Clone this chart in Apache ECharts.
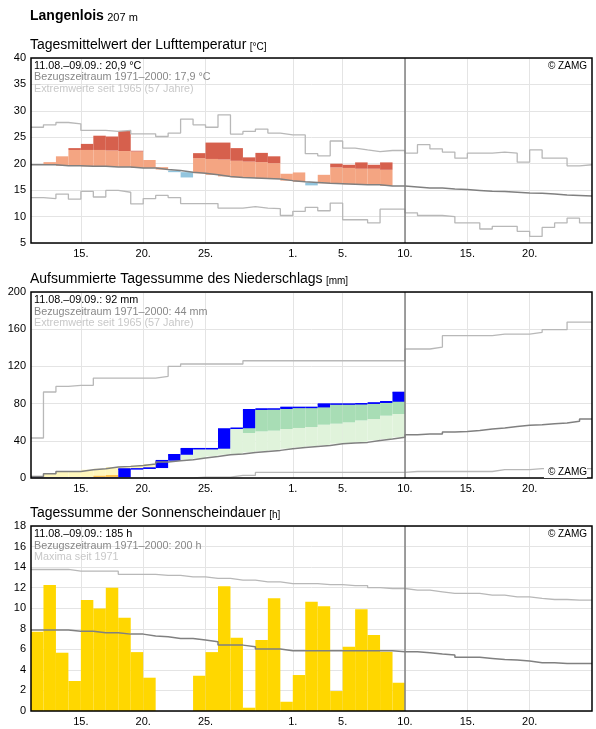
<!DOCTYPE html>
<html>
<head>
<meta charset="utf-8">
<script src="https://cdn.jsdelivr.net/npm/echarts@6/dist/echarts.min.js"></script>
<style>
html, body { margin: 0; padding: 0; background: #fff; }
#main { width: 596px; height: 729px; }
</style>
</head>
<body>
<div id="main"></div>
<script>
// x: Tage ab 11.08. (0) bis 24.09. (44), Achse 0..45
var N_DAYS = 45;
var TODAY = 30; // 10.09.
var tickPos = [4, 9, 14, 21, 25, 30, 35, 40];
var tickLabels = ['15.', '20.', '25.', '1.', '5.', '10.', '15.', '20.'];

// Lufttemperatur [°C]
var tempActual = [19.8, 20.3, 21.4, 22.95, 23.75, 25.3, 25.15, 26.2, 22.45, 20.7,
  19.35, 18.4, 17.4, 22.0, 24.0, 24.0, 22.95, 21.2, 22.05, 21.4,
  18.1, 18.35, 15.9, 17.9, 20.0, 19.8, 20.25, 19.8, 20.25, 15.8];
var tempUpper = [null, null, null, 22.6, 22.6, 22.6, 22.5, 22.4, 22.3, null,
  null, null, null, 21.05, 20.9, 20.8, 20.55, 20.4, 20.3, 20.1,
  null, null, null, null, 19.3, 19.2, 19.05, 19.05, 18.85, null];
var tempMean = [19.8, 19.8, 19.6, 19.6, 19.5, 19.5, 19.4, 19.4, 19.2, 19.2,
  18.9, 18.7, 18.4, 18.2, 17.9, 17.6, 17.4, 17.3, 17.2, 17.1,
  16.8, 16.6, 16.45, 16.3, 16.2, 16.1, 16.0, 16.0, 15.8, 15.8,
  15.6, 15.4, 15.4, 15.2, 15.1, 14.95, 14.8, 14.75, 14.6, 14.45,
  14.4, 14.25, 14.1, 14.0, 13.9];
var tempMax = [26.9, 27.35, 27.8, 27.55, 26.3, 26.3, 26.1, 26.3, 25.65, 25.65,
  25.15, 25.8, 28.45, 27.35, 26.9, 29.25, 25.6, 26.1, 26.55, 25.8,
  25.45, 25.45, 21.9, 21.5, 24.3, 22.95, 22.6, 22.3, 22.5, 22.5,
  22.0, 23.6, 22.8, 22.2, 21.05, 22.0, 22.0, 22.2, 22.0, 20.3,
  22.6, 21.05, 21.05, 19.6, 19.8];
var tempMin = [13.6, 13.4, 14.25, 13.3, 14.75, 13.7, 14.95, 14.6, 12.4, 13.4,
  14.0, 13.6, 12.45, 12.45, 12.45, 11.6, 11.6, 11.9, 11.6, 11.5,
  10.2, 11.0, 11.75, 11.1, 12.55, 9.4, 9.4, 8.8, 11.4, 11.4,
  10.7, 10.2, 10.2, 10.0, 8.8, 8.8, 7.65, 8.15, 8.15, 7.2,
  6.25, 7.95, 8.8, 9.7, 8.8];

// Niederschlag aufsummiert [mm]
var precActual = [0, 0, 0, 0, 0, 0, 0, 9.7, 9.8, 10.7,
  18.6, 25.0, 31.5, 31.5, 31.5, 52.7, 53.5, 73.4, 74.2, 74.2,
  75.9, 75.9, 75.9, 79.5, 79.5, 79.5, 79.8, 80.7, 82.0, 92.0];
var precUpper = [null, null, null, null, null, null, null, null, null, null,
  null, null, null, null, null, null, null, 48.4, 50.1, 50.9,
  52.7, 53.8, 54.8, 57.3, 58.4, 59.8, 61.9, 63.4, 67.0, 68.8];
var precLower = [null, null, null, null, null, 2.5, 3.2, null, null, null,
  null, null, null, null, null, null, null, null, null, null,
  null, null, null, null, null, null, null, null, null, null];
var precMean = [1.7, 4.6, 7.1, 7.1, 8.9, 10.0, 11.8, 12.5, 13.5, 15.0,
  17.2, 18.6, 19.7, 21.5, 23.2, 25.0, 25.8, 27.5, 28.6, 29.7,
  31.5, 32.9, 34.0, 35.0, 36.9, 37.6, 38.3, 40.4, 41.9, 43.7,
  46.6, 47.3, 47.3, 49.5, 50.1, 51.2, 52.7, 53.8, 55.5, 56.6,
  57.3, 58.4, 59.1, 60.9, 63.4];
var precMax = [43, 92.5, 98.5, 99.6, 99.6, 107.5, 107.5, 107.5, 107.5, 107.5,
  109.3, 120, 122.6, 122.6, 122.6, 122.6, 122.6, 126.1, 126.1, 126.1,
  126.1, 126.1, 126.1, 126.1, 126.1, 126.1, 126.1, 126.1, 126.1, 126.1,
  138.7, 138.7, 140.8, 153, 153, 153, 153, 154.8, 154.8, 154.8,
  156.6, 159.5, 159.5, 167.7, 167.7];
var precMin = [0, 0, 0, 0, 0, 0, 0, 0, 0, 0,
  0, 0, 0, 1, 1, 1, 2.8, 2.8, 6, 6,
  6, 6, 6, 6, 6, 6, 6, 6, 6, 6,
  7, 7, 7, 7, 7, 7, 7, 8.9, 8.9, 8.9,
  10, 10, 10, 10, 10];

// Sonnenscheindauer [h]
var sunHours = [7.7, 12.25, 5.67, 2.92, 10.8, 9.98, 12.0, 9.07, 5.73, 3.24,
  0, 0, 0, 3.43, 5.73, 12.15, 7.13, 0.32, 6.9, 10.98,
  0.9, 3.5, 10.62, 10.2, 1.94, 6.25, 9.91, 7.39, 5.76, 2.75];
var sunMean = [7.87, 7.87, 7.87, 7.77, 7.77, 7.61, 7.61, 7.48, 7.48, 7.29,
  7.22, 7.06, 7.06, 6.9, 6.74, 6.41, 6.41, 6.25, 6.03, 6.03,
  5.86, 5.86, 5.86, 5.86, 5.86, 5.86, 5.86, 5.86, 5.86, 5.76,
  5.76, 5.67, 5.54, 5.44, 5.22, 5.22, 5.12, 5.02, 4.96, 4.86,
  4.7, 4.7, 4.63, 4.63, 4.63];
var sunMax = [13.77, 13.77, 13.77, 13.6, 13.6, 13.6, 13.6, 13.3, 13.3, 13.3,
  13.2, 13.2, 13.05, 13.05, 12.9, 12.9, 12.73, 12.73, 12.57, 12.57,
  12.4, 12.4, 12.4, 12.3, 12.3, 12.2, 12.2, 12.0, 11.92, 11.92,
  11.76, 11.76, 11.6, 11.44, 11.44, 11.44, 11.27, 11.27, 11.1, 11.1,
  10.95, 10.85, 10.85, 10.79, 10.79];

var FONT = '"Liberation Sans", Arial, sans-serif';
var C = {
  salmon: '#f4a582', red: '#d6604d', lightBlue: '#92c5de',
  green1: '#e0f3db', green2: '#a8ddb5', yellow1: '#fff7bc', yellow2: '#fec44f',
  blue: '#0000ff', sun: '#ffd700',
  mean: '#808080', extreme: '#b8b8b8', grid: '#e4e4e4'
};

var dayCats = [];
for (var i = 0; i <= N_DAYS; i++) {
  var k = tickPos.indexOf(i);
  dayCats.push(k >= 0 ? tickLabels[k] : '');
}
function hasLabel(idx, val) { return val !== ''; }

var chart = echarts.init(document.getElementById('main'));

var grids = [
  { left: 31, right: 4, top: 58, height: 185 },
  { left: 31, right: 4, top: 292, height: 186 },
  { left: 31, right: 4, top: 526, height: 185 }
];
var yRanges = [[5, 40, 5], [0, 200, 40], [0, 18, 2]];

var xAxes = [], yAxes = [];
grids.forEach(function (g, gi) {
  // Rahmen über den Daten
  g.show = true;
  g.z = 10;
  g.borderColor = '#000';
  g.borderWidth = 1.5;
  g.backgroundColor = 'transparent';
  g.containLabel = false;
  g.outerBoundsMode = 'none';
  xAxes.push({
    gridIndex: gi, type: 'value', min: 0, max: N_DAYS, show: false
  });
  xAxes.push({
    gridIndex: gi, type: 'category', data: dayCats, boundaryGap: false, position: 'bottom',
    axisLine: { show: false }, axisTick: { show: false },
    axisLabel: { interval: hasLabel, color: '#000', fontSize: 11, fontFamily: FONT, margin: 5 },
    splitLine: { show: true, interval: hasLabel, lineStyle: { color: C.grid, width: 1 } }
  });
  var r = yRanges[gi];
  yAxes.push({
    gridIndex: gi, type: 'value', min: r[0], max: r[1], interval: r[2], position: 'left',
    axisLine: { show: false }, axisTick: { show: false },
    axisLabel: { color: '#000', fontSize: 11, fontFamily: FONT, margin: 5 },
    splitLine: { show: true, lineStyle: { color: C.grid, width: 1 } }
  });
});

function band(api, x, y0, y1, color) {
  var p0 = api.coord([x, y0]);
  var p1 = api.coord([x + 1, y1]);
  return {
    type: 'rect',
    shape: { x: p0[0], y: Math.min(p0[1], p1[1]), width: p1[0] - p0[0], height: Math.abs(p0[1] - p1[1]) },
    style: { fill: color }
  };
}

function steps(arr) {
  var pts = arr.map(function (v, i) { return [i, v]; });
  pts.push([arr.length, arr[arr.length - 1]]);
  return pts;
}

function stepLine(gi, arr, color, width, withToday) {
  var s = {
    type: 'line', xAxisIndex: gi * 2, yAxisIndex: gi, step: 'end',
    data: steps(arr), showSymbol: false, symbol: 'none', silent: true,
    lineStyle: { color: color, width: width }, z: 3
  };
  if (withToday) {
    s.markLine = {
      silent: true, symbol: 'none', label: { show: false },
      lineStyle: { color: '#808080', width: 1.5, type: 'solid' },
      data: [{ xAxis: TODAY }]
    };
  }
  return s;
}

var series = [];

// Temperatur: Abweichungen vom Mittel
series.push({
  type: 'custom', xAxisIndex: 0, yAxisIndex: 0, silent: true, clip: true,
  data: tempActual.map(function (v, i) { return [i, v, tempMean[i]]; }),
  renderItem: function (params, api) {
    var x = api.value(0), a = api.value(1), m = api.value(2);
    var u = tempUpper[params.dataIndex];
    var parts = [];
    if (a > m) {
      var over = u != null && a > u;
      parts.push(band(api, x, m, over ? u : a, C.salmon));
      if (over) parts.push(band(api, x, u, a, C.red));
    } else if (a < m) {
      parts.push(band(api, x, a, m, C.lightBlue));
    }
    return { type: 'group', children: parts };
  }
});
series.push(stepLine(0, tempMax, C.extreme, 1.3));
series.push(stepLine(0, tempMin, C.extreme, 1.3));
series.push(stepLine(0, tempMean, C.mean, 1.5, true));

// Niederschlag
series.push({
  type: 'custom', xAxisIndex: 2, yAxisIndex: 1, silent: true, clip: true,
  data: precActual.map(function (v, i) { return [i, v, precMean[i], i > 0 ? precActual[i - 1] : 0]; }),
  renderItem: function (params, api) {
    var d = params.dataIndex;
    var x = api.value(0), a = api.value(1), m = api.value(2), prev = api.value(3);
    var u = precUpper[d], l = precLower[d];
    var parts = [];
    if (a > m) {
      var over = u != null && a > u;
      parts.push(band(api, x, m, over ? u : a, C.green1));
      if (over) parts.push(band(api, x, u, a, C.green2));
    } else if (a < m) {
      var under = l != null && l > a;
      parts.push(band(api, x, under ? l : a, m, C.yellow1));
      if (under) parts.push(band(api, x, a, l, C.yellow2));
    }
    if (a > prev) parts.push(band(api, x, prev, a, C.blue));
    var p0 = api.coord([x, a]), p1 = api.coord([x + 1, a]);
    parts.push({
      type: 'line', shape: { x1: p0[0], y1: p0[1], x2: p1[0], y2: p1[1] },
      style: { stroke: C.blue, lineWidth: 1.5 }
    });
    return { type: 'group', children: parts };
  }
});
series.push(stepLine(1, precMax, C.extreme, 1.3));
series.push(stepLine(1, precMin, C.extreme, 1.3));
series.push(stepLine(1, precMean, C.mean, 1.5, true));

// Sonnenschein
series.push({
  type: 'custom', xAxisIndex: 4, yAxisIndex: 2, silent: true, clip: true,
  data: sunHours.map(function (v, i) { return [i, v]; }),
  renderItem: function (params, api) {
    return band(api, api.value(0), 0, api.value(1), C.sun);
  }
});
series.push(stepLine(2, sunMax, C.extreme, 1.3));
series.push(stepLine(2, sunMean, C.mean, 1.5, true));

function txt(x, y, text, size, color, extra) {
  var st = { text: text, fontSize: size, fontFamily: FONT, fill: color, verticalAlign: 'middle', align: 'left' };
  if (extra) for (var key in extra) st[key] = extra[key];
  return { type: 'text', x: x, y: y, z: 100, silent: true, style: st };
}
function heading(y, main, unit, bold, mainSize, unitSize) {
  return {
    type: 'text', x: 30, y: y, z: 100, silent: true,
    style: {
      text: '{m|' + main + '} {u|' + unit + '}', verticalAlign: 'middle',
      rich: {
        m: { fontSize: mainSize, fontWeight: bold ? 'bold' : 'normal', fontFamily: FONT, fill: '#000', verticalAlign: 'bottom', lineHeight: 16 },
        u: { fontSize: unitSize, fontFamily: FONT, fill: '#000', verticalAlign: 'bottom', lineHeight: 16 }
      }
    }
  };
}

var graphics = [
  heading(15, 'Langenlois', '207 m', true, 14, 11),
  heading(44, 'Tagesmittelwert der Lufttemperatur', '[°C]', false, 14, 10),
  txt(34, 66, '11.08.–09.09.: 20,9 °C', 10.8, '#000'),
  txt(34, 77.5, 'Bezugszeitraum 1971–2000: 17,9 °C', 10.8, '#888'),
  txt(34, 89, 'Extremwerte seit 1965 (57 Jahre)', 10.8, '#c8c8c8'),
  txt(587, 66, '© ZAMG', 10, '#000', { align: 'right' }),

  heading(278, 'Aufsummierte Tagessumme des Niederschlags', '[mm]', false, 14, 10),
  txt(34, 300.5, '11.08.–09.09.: 92 mm', 10.8, '#000'),
  txt(34, 312, 'Bezugszeitraum 1971–2000: 44 mm', 10.8, '#888'),
  txt(34, 323.5, 'Extremwerte seit 1965 (57 Jahre)', 10.8, '#c8c8c8'),
  txt(587, 472, '© ZAMG', 10, '#000', { align: 'right', backgroundColor: '#fff', padding: [1, 0, 1, 4] }),

  heading(512, 'Tagessumme der Sonnenscheindauer', '[h]', false, 14, 10),
  txt(34, 534.5, '11.08.–09.09.: 185 h', 10.8, '#000'),
  txt(34, 546, 'Bezugszeitraum 1971–2000: 200 h', 10.8, '#888'),
  txt(34, 557.5, 'Maxima seit 1971', 10.8, '#c8c8c8'),
  txt(587, 534, '© ZAMG', 10, '#000', { align: 'right' })
];

chart.setOption({
  animation: false,
  backgroundColor: '#fff',
  textStyle: { fontFamily: FONT },
  grid: grids,
  xAxis: xAxes,
  yAxis: yAxes,
  series: series,
  graphic: graphics
});
</script>
</body>
</html>
